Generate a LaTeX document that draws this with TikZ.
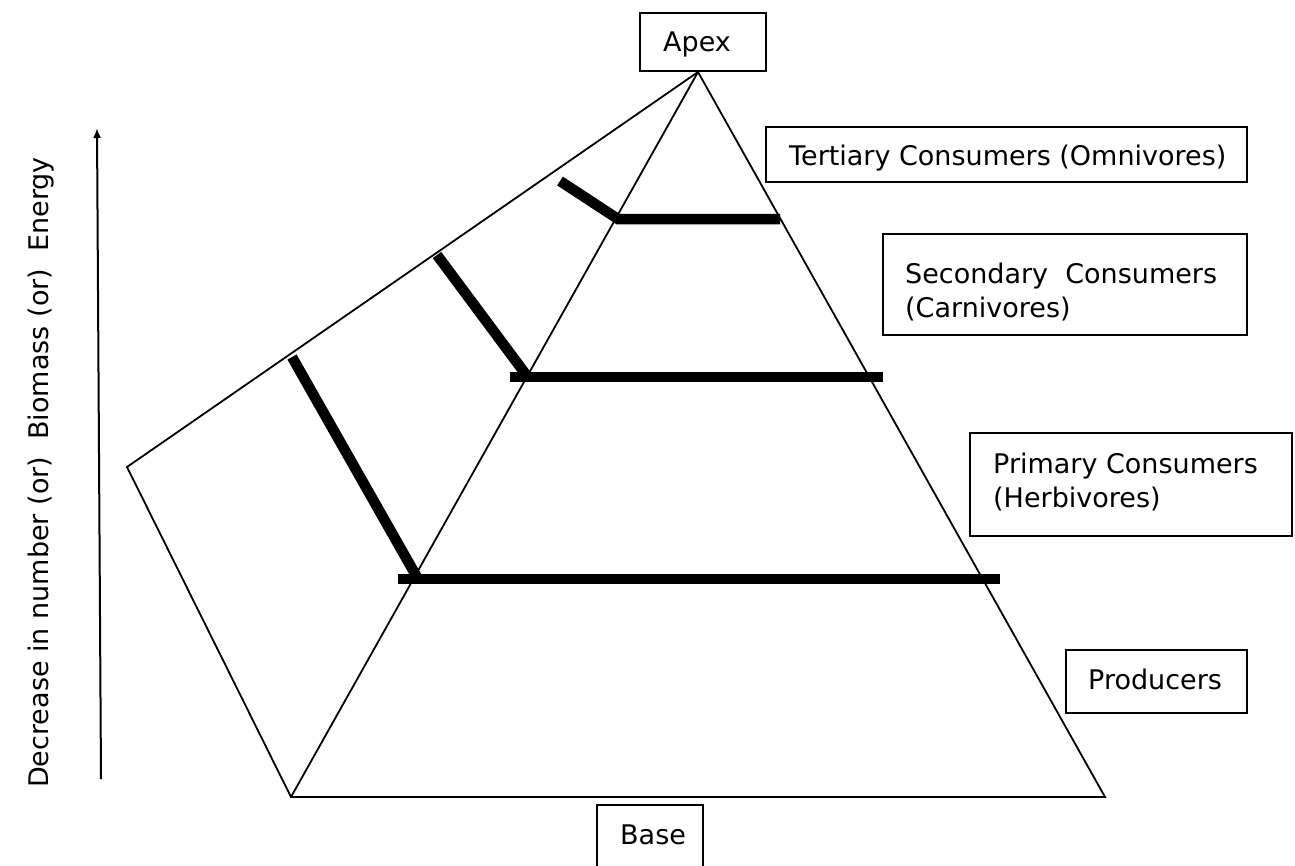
\documentclass[tikz,border=0pt]{standalone}
\usepackage{fontspec}
\setmainfont{DejaVu Sans}
\usetikzlibrary{arrows.meta}
\begin{document}
\begin{tikzpicture}[x=1pt,y=-1pt,
  thinline/.style={line width=1.8pt, line join=miter},
  bar/.style={line width=10.5pt, line join=miter},
  box/.style={draw, line width=1.8pt, rectangle, inner sep=0pt},
  lbl/.style={font=\fontsize{27}{34}\selectfont, inner sep=0pt, anchor=base west}]
\useasboundingbox (0,0) rectangle (1295,865);
\clip (0,0) rectangle (1295,865);
\fill[white] (0,0) rectangle (1295,865);

% pyramid outline
\coordinate (apex) at (698,72);
\coordinate (back) at (127,467);
\coordinate (bl) at (291,797);
\coordinate (br) at (1105,797);
\draw[thinline] (apex) -- (back) -- (bl) -- (br) -- cycle;
\draw[thinline] (apex) -- (bl);

% thick bars
\coordinate (ta) at (560,181);
\coordinate (tb) at (618,219);
\coordinate (tc) at (780,219);
\draw[bar] (ta) -- (tb) -- (tc);

\coordinate (ma) at (437,255);
\coordinate (mb) at (527,376);
\coordinate (mc) at (510,377);
\coordinate (md) at (883,377);
\draw[bar] (ma) -- (mb);
\draw[bar] (mc) -- (md);

\coordinate (la) at (292,357);
\coordinate (lb) at (418,579);
\coordinate (lc) at (398,579);
\coordinate (ld) at (1000,579);
\draw[bar] (la) -- (lb);
\draw[bar] (lc) -- (ld);

% arrow
\coordinate (abot) at (101,779);
\coordinate (atop) at (97,128);
\draw[line width=2pt, -{Latex[length=10pt,width=8pt]}] (abot) -- (atop);
\node[lbl, rotate=90] (axis) at (48,788) {Decrease in number (or)~ Biomass (or)~ Energy};

% boxes
\node[box, minimum width=126, minimum height=58] (apexbox) at (703,42) {};
\node[lbl] (apextxt) at (663,51) {Apex};

\node[box, minimum width=481, minimum height=55] (terbox) at (1006.5,154.5) {};
\node[lbl] (tertxt) at (789,165) {Tertiary Consumers (Omnivores)};

\node[box, minimum width=364, minimum height=101] (secbox) at (1065,284.5) {};
\node[lbl] (sectxt1) at (905,283) {Secondary~ Consumers};
\node[lbl] (sectxt2) at (905,317) {(Carnivores)};

\node[box, minimum width=322, minimum height=103] (primbox) at (1131,484.5) {};
\node[lbl] (primtxt1) at (993,473) {Primary Consumers};
\node[lbl] (primtxt2) at (993,507) {(Herbivores)};

\node[box, minimum width=181, minimum height=63] (prodbox) at (1156.5,681.5) {};
\node[lbl] (prodtxt) at (1088,689) {Producers};

\node[box, minimum width=106, minimum height=90] (basebox) at (650,850) {};
\node[lbl] (basetxt) at (620,844) {Base};
\end{tikzpicture}
\end{document}
